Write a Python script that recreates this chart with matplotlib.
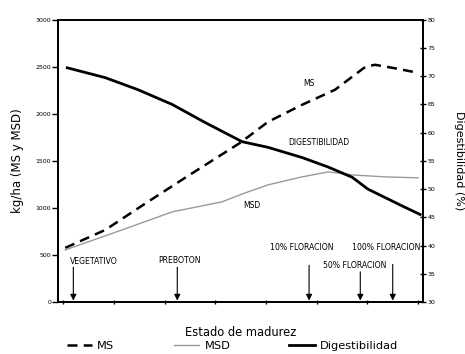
import matplotlib
matplotlib.use("Agg")
import matplotlib.pyplot as plt

# ---- data ----
ms_x = [0.04, 0.83, 1.6, 2.40, 3.49, 4.04, 4.71, 5.36, 5.96, 6.15, 6.49, 7.0]
ms_y = [575, 766, 1040, 1319, 1692, 1915, 2096, 2256, 2500, 2522, 2490, 2437]

msd_x = [0.04, 1.16, 2.15, 3.13, 3.59, 4.04, 4.71, 5.23, 5.70, 6.35, 7.0]
msd_y = [553, 766, 958, 1064, 1160, 1245, 1330, 1383, 1351, 1330, 1320]

dig_x = [0.08, 0.83, 1.48, 2.15, 2.80, 3.53, 4.04, 4.71, 5.23, 5.70, 6.01, 6.69, 7.04]
dig_y = [71.5, 69.75, 67.6, 65.0, 61.8, 58.4, 57.4, 55.6, 53.9, 52.1, 50.0, 47.0, 45.5]

left_ticks = [0, 500, 1000, 1500, 2000, 2500, 3000]
right_ticks = [30, 35, 40, 45, 50, 55, 60, 65, 70, 75, 80]
x_ticks = [0, 1, 2, 3, 4, 5, 6, 7]

stages = ["VEGETATIVO", "PREBOTON", "10% FLORACION", "50% FLORACION", "100% FLORACION"]
stage_x = [0.2, 2.25, 4.85, 5.86, 6.5]

fig = plt.figure(figsize=(4.65, 3.54), dpi=100)
ax = fig.add_axes([0.125, 0.147, 0.785, 0.797])
ax2 = ax.twinx()

ax.plot(ms_x, ms_y, color="black", lw=1.8, ls=(0, (4, 2.5)), label="MS")
ax.plot(msd_x, msd_y, color="#9a9a9a", lw=1.0, label="MSD")
ax2.plot(dig_x, dig_y, color="black", lw=2.0, label="Digestibilidad")

ax.set_xlim(-0.1, 7.1)
ax.set_ylim(0, 3000)
ax2.set_ylim(30, 80)
ax.set_xticks(x_ticks)
ax.set_xticklabels([])
ax.set_yticks(left_ticks)
ax2.set_yticks(right_ticks)
ax.tick_params(axis="y", labelsize=4.5, length=4, width=1, direction="out", pad=1)
ax.tick_params(axis="x", length=3, width=1, direction="inout")
ax2.tick_params(axis="y", labelsize=4.5, length=4, width=1, direction="inout", pad=1)
for a in (ax, ax2):
    for s in a.spines.values():
        s.set_linewidth(1.3)

ax.set_ylabel("kg/ha (MS y MSD)", fontsize=8.5, labelpad=8)
ax2.set_ylabel("Digestibilidad (%)", fontsize=8, rotation=-90, labelpad=21)
ax.set_xlabel("Estado de madurez", fontsize=8.3, labelpad=12)

# curve labels
ax.text(4.85, 2320, "MS", fontsize=5.5, ha="center", va="center")
ax.text(5.05, 1700, "DIGESTIBILIDAD", fontsize=5.5, ha="center", va="center")
ax.text(3.73, 1030, "MSD", fontsize=5.5, ha="center", va="center")

# stage labels and arrows
lab_pos = [(0.6, 430), (2.3, 440), (4.7, 580), (5.75, 390), (6.37, 580)]
for name, (lx, ly) in zip(stages, lab_pos):
    ax.text(lx, ly, name, fontsize=5.6, ha="center", va="center")
for sx, top in zip(stage_x, [370, 370, 390, 320, 400]):
    ax.annotate("", xy=(sx, 0), xytext=(sx, top),
                arrowprops=dict(arrowstyle="-|>", color="black", lw=0.8,
                                mutation_scale=9, shrinkA=0, shrinkB=1))

h1, l1 = ax.get_legend_handles_labels()
h2, l2 = ax2.get_legend_handles_labels()
fig.legend(h1 + h2, l1 + l2, loc="lower center", bbox_to_anchor=(0.5, -0.02),
           ncol=3, frameon=False, fontsize=8.2, handlelength=2.2,
           columnspacing=5.2, handletextpad=0.5)

fig.savefig("out.png", dpi=100)
